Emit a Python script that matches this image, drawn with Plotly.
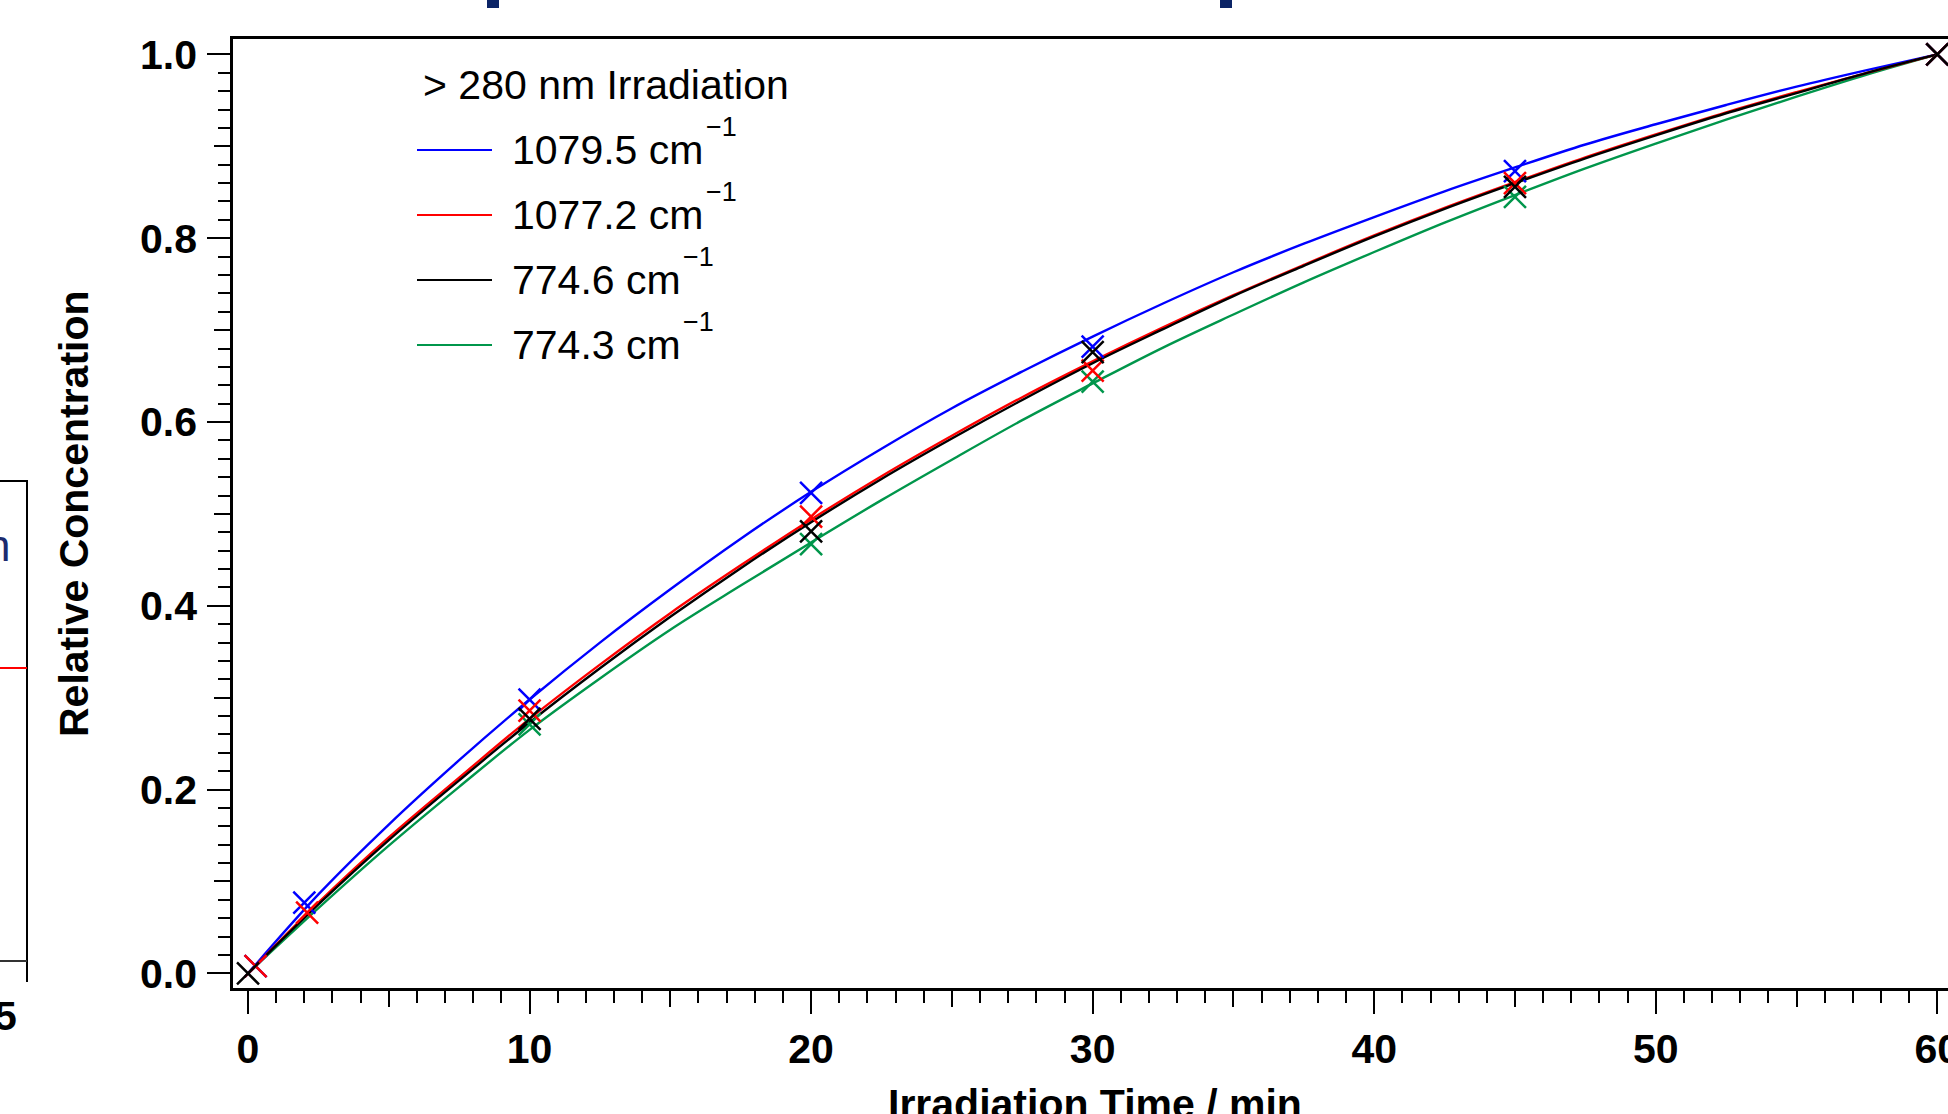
import plotly.graph_objects as go

# ---------------- data ----------------
curve_time = [0, 2.5, 5, 7.5, 10, 12.5, 15, 17.5, 20, 22.5, 25, 27.5, 30,
              32.5, 35, 37.5, 40, 42.5, 45, 47.5, 50, 52.5, 55, 57.5, 60]
blue_curve = [0.0, 0.086, 0.162, 0.232, 0.298, 0.360, 0.418, 0.473, 0.524, 0.571, 0.615, 0.655, 0.693,
              0.729, 0.763, 0.794, 0.823, 0.851, 0.877, 0.902, 0.924, 0.945, 0.965, 0.983, 1.0]
red_curve = [0.0, 0.077, 0.148, 0.213, 0.277, 0.336, 0.392, 0.444, 0.494, 0.541, 0.585, 0.627, 0.666,
             0.703, 0.738, 0.771, 0.803, 0.833, 0.861, 0.888, 0.913, 0.937, 0.959, 0.980, 1.0]
black_curve = [0.0, 0.075, 0.145, 0.210, 0.273, 0.332, 0.388, 0.441, 0.491, 0.538, 0.582, 0.624, 0.664,
               0.701, 0.737, 0.770, 0.802, 0.832, 0.860, 0.887, 0.912, 0.936, 0.958, 0.980, 1.0]
green_curve = [0.0, 0.071, 0.139, 0.203, 0.265, 0.321, 0.374, 0.422, 0.469, 0.515, 0.559, 0.602, 0.642,
               0.681, 0.717, 0.752, 0.785, 0.817, 0.847, 0.876, 0.903, 0.929, 0.954, 0.978, 1.0]

blue_pts_t = [0.27, 2.0, 10, 20, 30, 45, 60]
blue_pts_y = [0.008, 0.077, 0.298, 0.523, 0.682, 0.873, 1.0]
red_pts_t = [0.27, 2.1, 10, 20, 30, 45, 60]
red_pts_y = [0.008, 0.066, 0.286, 0.497, 0.656, 0.860, 1.0]
black_pts_t = [0, 10, 20, 30, 45, 60]
black_pts_y = [0.0, 0.277, 0.481, 0.676, 0.856, 1.0]
green_pts_t = [10, 20, 30, 45, 60]
green_pts_y = [0.271, 0.467, 0.644, 0.845, 1.0]

series_names = ["1079.5 cm", "1077.2 cm", "774.6 cm", "774.3 cm"]
legend_title = "> 280 nm Irradiation"
superscript = "\u22121"
x_title = "Irradiation Time / min"
y_title = "Relative Concentration"
x_medium_ticks = [5, 15, 25, 35, 45, 55]
y_medium_ticks = [0.1, 0.3, 0.5, 0.7, 0.9]

# ---------------- style ----------------
BLUE, RED, BLACK, GREEN = "#0000ff", "#ff0000", "#000000", "#00964b"
NAVY = "#0b2466"
FONT = "Liberation Sans, Arial, Helvetica, sans-serif"
FS = 41

W, H = 1948, 1114
L, T, PW, PH = 233, 39, 1715, 949
X_RANGE = [-0.533, 60.38]
Y_RANGE = [-0.0159, 1.0168]


def px(xp):
    return (xp - L) / PW


def py(yp):
    return (T + PH - yp) / PH


fig = go.Figure()

# fitted curves
for ys, col in [(green_curve, GREEN), (blue_curve, BLUE), (red_curve, RED), (black_curve, BLACK)]:
    fig.add_trace(go.Scatter(x=curve_time, y=ys, mode="lines",
                             line=dict(color=col, width=2.4, shape="spline"),
                             hoverinfo="skip", showlegend=False))

# measured points
for ts, ys, col in [(green_pts_t, green_pts_y, GREEN), (blue_pts_t, blue_pts_y, BLUE),
                    (red_pts_t, red_pts_y, RED), (black_pts_t, black_pts_y, BLACK)]:
    fig.add_trace(go.Scatter(x=ts, y=ys, mode="markers",
                             marker=dict(symbol="x-thin", size=22, color=col,
                                         line=dict(color=col, width=2.5)),
                             cliponaxis=False, showlegend=False))

# empty trace for medium-tick overlay axes
fig.add_trace(go.Scatter(x=[], y=[], xaxis="x2", yaxis="y2", showlegend=False))

tickfont = dict(family=FONT, size=FS, color="black", weight="bold")

fig.update_layout(
    width=W, height=H,
    margin=dict(l=L, r=0, t=T, b=H - T - PH, pad=0),
    paper_bgcolor="white", plot_bgcolor="white",
    showlegend=False,
    xaxis=dict(range=X_RANGE, showgrid=False, zeroline=False,
               showline=True, linecolor="black", linewidth=2.5, mirror=True,
               ticks="outside", ticklen=23, tickwidth=2, tickcolor="black",
               tickmode="linear", tick0=0, dtick=10, tickformat="d",
               tickfont=tickfont, ticklabelstandoff=0, automargin=False,
               ticklabeloverflow="allow",
               minor=dict(ticks="outside", tick0=0, dtick=1, ticklen=12,
                          tickwidth=2, tickcolor="black", showgrid=False)),
    yaxis=dict(range=Y_RANGE, showgrid=False, zeroline=False,
               showline=True, linecolor="black", linewidth=2.5,
               ticks="outside", ticklen=23, tickwidth=2, tickcolor="black",
               tickmode="linear", tick0=0, dtick=0.2, tickformat=".1f",
               tickfont=tickfont, ticklabelstandoff=2, automargin=False,
               ticklabeloverflow="allow",
               minor=dict(ticks="outside", tick0=0, dtick=0.02, ticklen=12,
                          tickwidth=2, tickcolor="black", showgrid=False)),
    xaxis2=dict(range=X_RANGE, overlaying="x", anchor="y", side="bottom",
                showgrid=False, zeroline=False, showline=False,
                tickmode="array", tickvals=x_medium_ticks, showticklabels=False,
                ticks="outside", ticklen=18, tickwidth=2, tickcolor="black"),
    yaxis2=dict(range=Y_RANGE, overlaying="y", anchor="x", side="left",
                showgrid=False, zeroline=False, showline=False,
                tickmode="array", tickvals=y_medium_ticks, showticklabels=False,
                ticks="outside", ticklen=18, tickwidth=2, tickcolor="black"),
)

annotations = []
shapes = []

# axis titles
annotations.append(dict(text=y_title, xref="paper", yref="paper", x=px(74), y=py(514),
                        xanchor="center", yanchor="middle", textangle=-90, showarrow=False,
                        font=dict(family=FONT, size=FS, color="black", weight="bold")))
annotations.append(dict(text=x_title, xref="paper", yref="paper", x=px(1095), y=py(1104),
                        xanchor="center", yanchor="middle", showarrow=False,
                        font=dict(family=FONT, size=FS, color="black", weight="bold")))

# custom legend
annotations.append(dict(text=legend_title, xref="paper", yref="paper", x=px(421), y=py(85),
                        xanchor="left", yanchor="middle", showarrow=False,
                        font=dict(family=FONT, size=FS, color="black")))
rows = [150, 215, 280, 345]
sup_x = [704, 704, 681, 681]
for name, col, ry, sx in zip(series_names, [BLUE, RED, BLACK, GREEN], rows, sup_x):
    shapes.append(dict(type="line", xref="paper", yref="paper", x0=px(417), x1=px(492),
                       y0=py(ry), y1=py(ry), line=dict(color=col, width=2.2)))
    annotations.append(dict(text=name, xref="paper", yref="paper", x=px(510), y=py(ry),
                            xanchor="left", yanchor="middle", showarrow=False,
                            font=dict(family=FONT, size=FS, color="black")))
    annotations.append(dict(text=superscript, xref="paper", yref="paper", x=px(sx), y=py(ry - 23),
                            xanchor="left", yanchor="middle", showarrow=False,
                            font=dict(family=FONT, size=27, color="black")))

# neighbouring panel fragment on the left
shapes.append(dict(type="line", xref="paper", yref="paper", x0=px(27), x1=px(27),
                   y0=py(480), y1=py(982), line=dict(color="black", width=2)))
shapes.append(dict(type="line", xref="paper", yref="paper", x0=px(-5), x1=px(27),
                   y0=py(481), y1=py(481), line=dict(color="black", width=2)))
shapes.append(dict(type="line", xref="paper", yref="paper", x0=px(-5), x1=px(27),
                   y0=py(961), y1=py(961), line=dict(color="#333333", width=2)))
shapes.append(dict(type="line", xref="paper", yref="paper", x0=px(-5), x1=px(27),
                   y0=py(668), y1=py(668), line=dict(color=RED, width=2)))
annotations.append(dict(text="n", xref="paper", yref="paper", x=px(12), y=py(545),
                        xanchor="right", yanchor="middle", showarrow=False,
                        font=dict(family=FONT, size=44, color="#1c2b6e")))
annotations.append(dict(text="5", xref="paper", yref="paper", x=px(19), y=py(1016),
                        xanchor="right", yanchor="middle", showarrow=False,
                        font=dict(family=FONT, size=FS, color="black", weight="bold")))

# fragments of the slide title above (cut off)
for x0 in [487, 1220]:
    shapes.append(dict(type="rect", xref="paper", yref="paper", x0=px(x0), x1=px(x0 + 12),
                       y0=py(0), y1=py(8), line=dict(width=0), fillcolor=NAVY))

fig.update_layout(annotations=annotations, shapes=shapes)

fig.write_html("out.html")
